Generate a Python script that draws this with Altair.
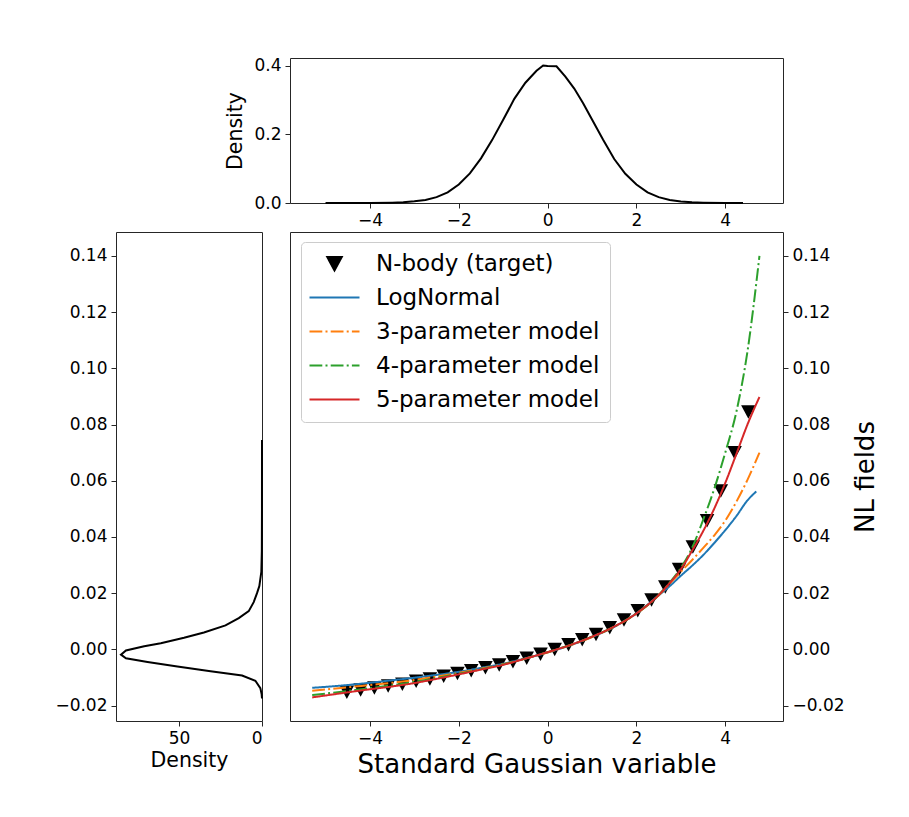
import altair as alt
import pandas as pd

# ---------------- data ----------------
series_labels = ["N-body (target)", "LogNormal", "3-parameter model",
                 "4-parameter model", "5-parameter model"]
series_colors = ["#000000", "#1f77b4", "#ff7f0e", "#2ca02c", "#d62728"]

# N-body target (triangles)
nbody_x = [-4.52, -4.21, -3.90, -3.59, -3.27, -2.96, -2.65, -2.34, -2.03, -1.72,
           -1.40, -1.09, -0.78, -0.47, -0.16, 0.16, 0.47, 0.78, 1.09, 1.40,
           1.72, 2.03, 2.34, 2.65, 2.96, 3.27, 3.59, 3.90, 4.21, 4.52]
nbody_y = [-0.0152, -0.0144, -0.0137, -0.0130, -0.0123, -0.0113, -0.0105, -0.0095,
           -0.0085, -0.0075, -0.0065, -0.0055, -0.0043, -0.0031, -0.0017, 0.0000,
           0.0017, 0.0035, 0.0054, 0.0078, 0.0105, 0.0138, 0.0176, 0.0223, 0.0285,
           0.0365, 0.0458, 0.0564, 0.0700, 0.0845]

# model curves
model_x = [-5.3, -4.5, -4.0, -3.5, -3.0, -2.5, -2.0, -1.5, -1.0, -0.5, 0.0, 0.5,
           1.0, 1.5, 2.0, 2.5, 2.75, 3.0, 3.25, 3.5, 3.75, 4.0, 4.25, 4.5]
lognormal_y = [-0.0137, -0.0127, -0.0119, -0.0110, -0.0101, -0.0091, -0.0080, -0.0066,
               -0.0051, -0.0032, -0.0011, 0.0014, 0.0044, 0.0080, 0.0128, 0.0192,
               0.0225, 0.0262, 0.0297, 0.0335, 0.0378, 0.0424, 0.0474, 0.0530, 0.0562]
param3_y = [-0.0147, -0.0135, -0.0127, -0.0119, -0.0109, -0.0097, -0.0084, -0.0069,
            -0.0053, -0.0033, -0.0011, 0.0014, 0.0044, 0.0080, 0.0127, 0.0192,
            0.0234, 0.0276, 0.0317, 0.0360, 0.0405, 0.0458, 0.0525, 0.0603, 0.0700]
param4_y = [-0.0163, -0.0148, -0.0138, -0.0128, -0.0116, -0.0102, -0.0087, -0.0071,
            -0.0054, -0.0033, -0.0010, 0.0015, 0.0045, 0.0081, 0.0128, 0.0193,
            0.0238, 0.0290, 0.0360, 0.0460, 0.0570, 0.0700, 0.0845, 0.1060, 0.1400]
param5_y = [-0.0171, -0.0153, -0.0142, -0.0132, -0.0120, -0.0105, -0.0089, -0.0072,
            -0.0055, -0.0033, -0.0010, 0.0015, 0.0045, 0.0081, 0.0128, 0.0193,
            0.0236, 0.0285, 0.0350, 0.0420, 0.0500, 0.0592, 0.0695, 0.0800, 0.0898]
model_end_x = [4.70, 4.77, 4.77, 4.77]

# marginal densities
top_x = [-5.0, -4.5, -4.0, -3.5, -3.25, -3.0, -2.75, -2.5, -2.25, -2.0, -1.75, -1.5,
         -1.25, -1.0, -0.75, -0.5, -0.25, -0.1, 0.0, 0.2, 0.4, 0.6, 0.8, 1.0, 1.25,
         1.5, 1.75, 2.0, 2.25, 2.5, 2.75, 3.0, 3.25, 3.5, 4.0, 4.4]
top_density = [0.0, 0.0, 0.0002, 0.001, 0.002, 0.005, 0.009, 0.017, 0.031, 0.054,
               0.086, 0.130, 0.183, 0.242, 0.303, 0.350, 0.385, 0.400, 0.399, 0.398,
               0.368, 0.333, 0.290, 0.243, 0.184, 0.128, 0.085, 0.054, 0.031, 0.017,
               0.009, 0.0045, 0.002, 0.001, 0.0001, 0.0]

left_value = [0.0745, 0.05, 0.035, 0.0276, 0.0225, 0.020, 0.0168, 0.0136, 0.0111,
              0.0085, 0.006, 0.0041, 0.0022, 0.0011, -0.0004, -0.0019, -0.0032,
              -0.0045, -0.0061, -0.0078, -0.0093, -0.0112, -0.0138, -0.0160, -0.0175]
left_density = [0.0, 0.02, 0.1, 0.4, 1.6, 3.0, 5.0, 8.0, 14.0, 22.0, 35.0, 47.0, 61.0,
                71.0, 82.0, 85.0, 82.0, 69.0, 51.0, 31.0, 12.0, 4.0, 1.0, 0.2, 0.0]

# ---------------- tables ----------------
nbody_df = pd.DataFrame({"x": nbody_x, "y": nbody_y, "series": series_labels[0]})
rows = []
for name, ys, xe in zip(series_labels[1:], [lognormal_y, param3_y, param4_y, param5_y],
                        model_end_x):
    for xv, yv in zip(model_x + [xe], ys):
        rows.append({"x": xv, "y": yv, "series": name})
models_df = pd.DataFrame(rows)
top_df = pd.DataFrame({"x": top_x, "d": top_density})
left_df = pd.DataFrame({"v": left_value, "d": left_density})

# ---------------- styling ----------------
FONT = "DejaVu Sans"
INK = "#000000"
SPINE = "#262626"
X_DOM = [-5.8, 5.3]
Y_DOM = [-0.0255, 0.1485]
y_ticks = [-0.02, 0.0, 0.02, 0.04, 0.06, 0.08, 0.10, 0.12, 0.14]

tri = "M-1.45,-1.3L1.45,-1.3L0,1.4Z"
seg = "M-5,0L5,0"
dashdot = [12.8, 3.2, 2, 3.2]

color_scale = alt.Scale(domain=series_labels, range=series_colors)
shape_scale = alt.Scale(domain=series_labels, range=[tri, seg, seg, seg, seg])
dash_scale = alt.Scale(domain=series_labels,
                       range=[[1, 0], [1, 0], dashdot, dashdot, [1, 0]])

# legend is positioned in the concat's frame: main panel starts at (174, 174)
legend = alt.Legend(
    title=None, orient="none", legendX=185, legendY=184,
    labelFont=FONT, labelFontSize=23, labelColor=INK, labelLimit=400,
    symbolSize=100, symbolStrokeWidth=2, symbolOffset=12, labelOffset=30,
    rowPadding=10, padding=10, fillColor="white", strokeColor="#cccccc",
    cornerRadius=4,
)

xs_main = alt.Scale(domain=X_DOM, nice=False, zero=False)
ys_main = alt.Scale(domain=Y_DOM, nice=False, zero=False)

x_axis_main = alt.Axis(values=[-4, -2, 0, 2, 4], title="Standard Gaussian variable",
                       titleFontSize=26, titlePadding=5)
y_axis_main = alt.Axis(orient="right", values=y_ticks, format=".2f", title="NL fields",
                       titleFontSize=26, titleAngle=270, titlePadding=34)

points = alt.Chart(nbody_df).mark_point(filled=True, size=100, opacity=1).encode(
    x=alt.X("x:Q", scale=xs_main, axis=x_axis_main),
    y=alt.Y("y:Q", scale=ys_main, axis=y_axis_main),
    color=alt.Color("series:N", scale=color_scale, legend=legend),
    shape=alt.Shape("series:N", scale=shape_scale, legend=legend),
)
lines = alt.Chart(models_df).mark_line(strokeWidth=2, interpolate="monotone").encode(
    x=alt.X("x:Q", scale=xs_main, axis=x_axis_main),
    y=alt.Y("y:Q", scale=ys_main, axis=y_axis_main),
    color=alt.Color("series:N", scale=color_scale, legend=legend),
    strokeDash=alt.StrokeDash("series:N", scale=dash_scale, legend=legend),
)
main = alt.layer(points, lines).properties(width=493, height=489)

top = alt.Chart(top_df).mark_line(color=INK, strokeWidth=2).encode(
    x=alt.X("x:Q", scale=alt.Scale(domain=X_DOM, nice=False, zero=False),
            axis=alt.Axis(values=[-4, -2, 0, 2, 4], title=None)),
    y=alt.Y("d:Q", scale=alt.Scale(domain=[0, 0.422], nice=False),
            axis=alt.Axis(values=[0.0, 0.2, 0.4], format=".1f", title="Density",
                          titleFontSize=20.5, titlePadding=8)),
).properties(width=493, height=145)

left = alt.Chart(left_df).mark_line(color=INK, strokeWidth=2).encode(
    x=alt.X("d:Q", scale=alt.Scale(domain=[0, 88], reverse=True, nice=False),
            axis=alt.Axis(values=[0, 50], title="Density", titleFontSize=20.5,
                          titlePadding=4)),
    y=alt.Y("v:Q", scale=alt.Scale(domain=Y_DOM, nice=False, zero=False),
            axis=alt.Axis(values=y_ticks, format=".2f", title=None)),
    order=alt.Order("v:Q"),
).properties(width=146, height=489)

blank = alt.Chart(pd.DataFrame({"v": [0]})).mark_point(opacity=0).encode(
    x=alt.X("v:Q", axis=None), y=alt.Y("v:Q", axis=None),
).properties(width=146, height=145, view=alt.ViewBackground(strokeOpacity=0))

chart = alt.concat(blank, top, left, main, columns=2,
                   spacing={"row": 29, "column": 28}, bounds="flush").configure(
    font=FONT, background="white",
    padding={"left": 54, "top": 56, "right": 10, "bottom": 10},
).configure_view(stroke=SPINE, strokeWidth=1).configure_axis(
    labelFont=FONT, labelFontSize=17, labelColor=INK, labelPadding=4,
    tickColor=SPINE, tickSize=5, tickWidth=1, domain=False, grid=False,
    titleFont=FONT, titleFontWeight="normal", titleColor=INK,
)

chart.save("out.html", embed_options={"renderer": "svg", "actions": False})
